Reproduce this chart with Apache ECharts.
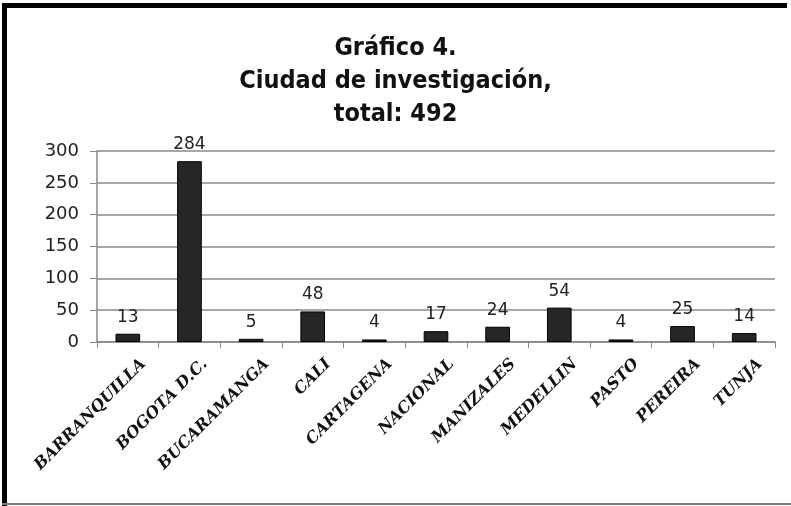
<!DOCTYPE html>
<html>
<head>
<meta charset="utf-8">
<script src="https://cdn.jsdelivr.net/npm/echarts@6/dist/echarts.min.js"></script>
<style>
html, body { margin:0; padding:0; background:#fff; }
#myChart { width:791px; height:506px; }
</style>
</head>
<body>
<div id="myChart"></div>
<script type="text/javascript">
// datos del grafico
var ciudades = ['BARRANQUILLA', 'BOGOTA D.C.', 'BUCARAMANGA', 'CALI', 'CARTAGENA', 'NACIONAL',
                'MANIZALES', 'MEDELLIN', 'PASTO', 'PEREIRA', 'TUNJA'];
var totales  = [13, 284, 5, 48, 4, 17, 24, 54, 4, 25, 14];
var titulo   = 'Gráfico 4.\nCiudad de investigación,\ntotal: 492';

var option = {
    animation: false,
    title: {
        text: titulo,
        left: 'center',
        top: 27,
        textStyle: {
            fontFamily: 'DejaVu Sans Condensed, sans-serif',
            fontSize: 25,
            fontWeight: 'bold',
            color: '#111',
            lineHeight: 33
        }
    },
    grid: { left: 97, right: 16, top: 151, bottom: 164 },
    xAxis: {
        type: 'category',
        data: ciudades,
        axisLine: { lineStyle: { color: '#888', width: 1.5 } },
        axisTick: { show: true, length: 6, lineStyle: { color: '#888' } },
        axisLabel: {
            rotate: 45,
            interval: 0,
            margin: 4,
            verticalAlign: 'top',
            padding: [14, 0, 0, 0],
            fontFamily: 'DejaVu Serif, serif',
            fontStyle: 'italic',
            fontWeight: 'bold',
            fontSize: 16,
            color: '#111'
        }
    },
    yAxis: {
        type: 'value',
        min: 0,
        max: 300,
        interval: 50,
        axisLine: { show: true, lineStyle: { color: '#888', width: 1.5 } },
        axisTick: { show: true, length: 7, lineStyle: { color: '#888' } },
        splitLine: { lineStyle: { color: '#8a8a8a', width: 1.5 } },
        axisLabel: {
            margin: 18,
            fontFamily: 'DejaVu Sans, sans-serif',
            fontSize: 18,
            color: '#222',
            padding: [10, 0, 0, 0]
        }
    },
    series: [{
        name: 'Ciudad',
        type: 'bar',
        data: totales,
        barWidth: '40%',
        itemStyle: { color: '#262626', borderColor: '#000', borderWidth: 1 },
        label: {
            show: true,
            position: 'top',
            distance: 8,
            fontFamily: 'DejaVu Sans, sans-serif',
            fontSize: 17,
            color: '#222'
        }
    }],
    graphic: [
        { type: 'rect', shape: { x: 2, y: 3, width: 785, height: 5 }, style: { fill: '#000' } },
        { type: 'rect', shape: { x: 2, y: 3, width: 5, height: 503 }, style: { fill: '#000' } },
        { type: 'rect', shape: { x: 2, y: 503, width: 789, height: 2 }, style: { fill: '#777' } }
    ]
};

echarts.init(document.getElementById('myChart')).setOption(option);
</script>
</body>
</html>
